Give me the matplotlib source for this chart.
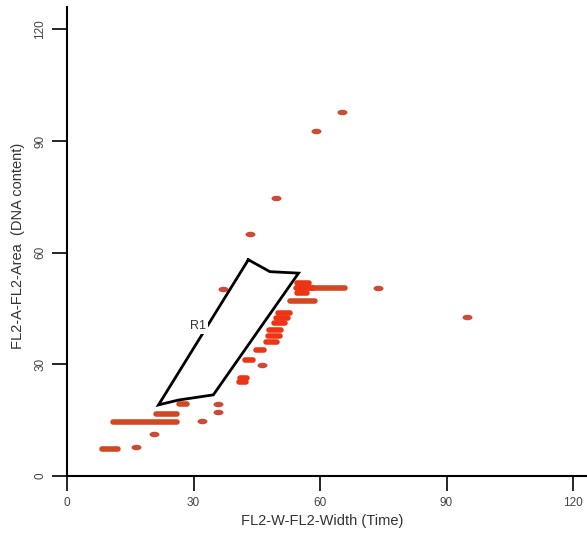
import numpy as np
import matplotlib.pyplot as plt
from matplotlib.path import Path

plt.rcParams['font.family'] = ['Liberation Sans', 'DejaVu Sans']

# horizontal runs of events: (y, x start, x end)
run_y = [50.4, 47.1, 51.9, 50.5, 49.2, 43.8, 42.5, 41.1, 39.2, 37.6, 36.0,
         33.9, 31.2, 26.3, 25.3, 16.7, 14.5, 7.3, 19.4]
run_x0 = [54.2, 52.8, 54.6, 54.6, 54.6, 50.1, 49.6, 49.2, 48.0, 47.6, 47.2,
          44.7, 42.1, 41.1, 40.9, 21.0, 10.8, 8.2, 26.6]
run_x1 = [66.0, 58.9, 57.4, 58.4, 56.9, 52.8, 52.4, 51.8, 50.8, 50.4, 49.7,
          46.8, 44.0, 42.7, 42.4, 26.2, 26.2, 12.2, 28.4]
run_dense = [0, 0, 1, 1, 1, 1, 1, 1, 1, 1, 1, 1, 1, 1, 1, 0, 0, 0, 0]

# single events
dot_x = [65.2, 59.0, 49.6, 43.4, 73.7, 94.8, 37.1, 46.2, 20.6, 16.4, 31.9, 35.8, 35.8]
dot_y = [97.8, 92.8, 74.6, 65.0, 50.5, 42.8, 50.3, 29.8, 11.3, 7.8, 14.8, 19.4, 17.2]

# R1 gate outline
gate_x = [43.0, 48.1, 54.9, 34.7, 26.4, 21.7, 43.0]
gate_y = [58.1, 54.9, 54.5, 21.8, 20.4, 19.1, 58.1]

ticks = [0, 30, 60, 90, 120]

fig = plt.figure(figsize=(5.87, 5.36), dpi=100)
ax = fig.add_axes([67 / 587, 60 / 536, 520 / 587, 469 / 536])
ax.set_xlim(0, 123.3)
ax.set_ylim(0, 126)

# flattened ellipse marker for one event
t = np.linspace(0, 2 * np.pi, 40)
ell = Path(np.column_stack([np.cos(t), 0.55 * np.sin(t)]), closed=True)

for y, x0, x1, d in zip(run_y, run_x0, run_x1, run_dense):
    ax.hlines(y, x0, x1, colors='#ec3514' if d else '#d24820',
              linewidth=4.0, capstyle='round')
ax.scatter(dot_x, dot_y, marker=ell, s=52, c='#cc4a36', linewidths=0)

ax.plot(gate_x, gate_y, color='black', linewidth=2.0, solid_joinstyle='miter')
ax.text(31.0, 40.2, 'R1', fontsize=9, color='#333333', ha='center', va='center',
        bbox=dict(facecolor='white', edgecolor='none', pad=1.5))

for s in ['top', 'right']:
    ax.spines[s].set_visible(False)
for s in ['left', 'bottom']:
    ax.spines[s].set_linewidth(1.5)

ax.set_xticks(ticks)
ax.set_yticks(ticks)
ax.tick_params(length=11, width=1.2, labelsize=8.5, labelcolor='#444444', pad=4)
ax.tick_params(axis='y', labelrotation=90)
for lab in ax.get_yticklabels():
    lab.set_va('center')

ax.set_xlabel('FL2-W-FL2-Width (Time)', fontsize=10.5, color='#333333')
ax.set_ylabel('FL2-A-FL2-Area  (DNA content)', fontsize=10.5, color='#333333')
ax.xaxis.set_label_coords(0.49, -0.08)
ax.yaxis.set_label_coords(-0.08, 0.49)

fig.savefig('out.png', dpi=100)
